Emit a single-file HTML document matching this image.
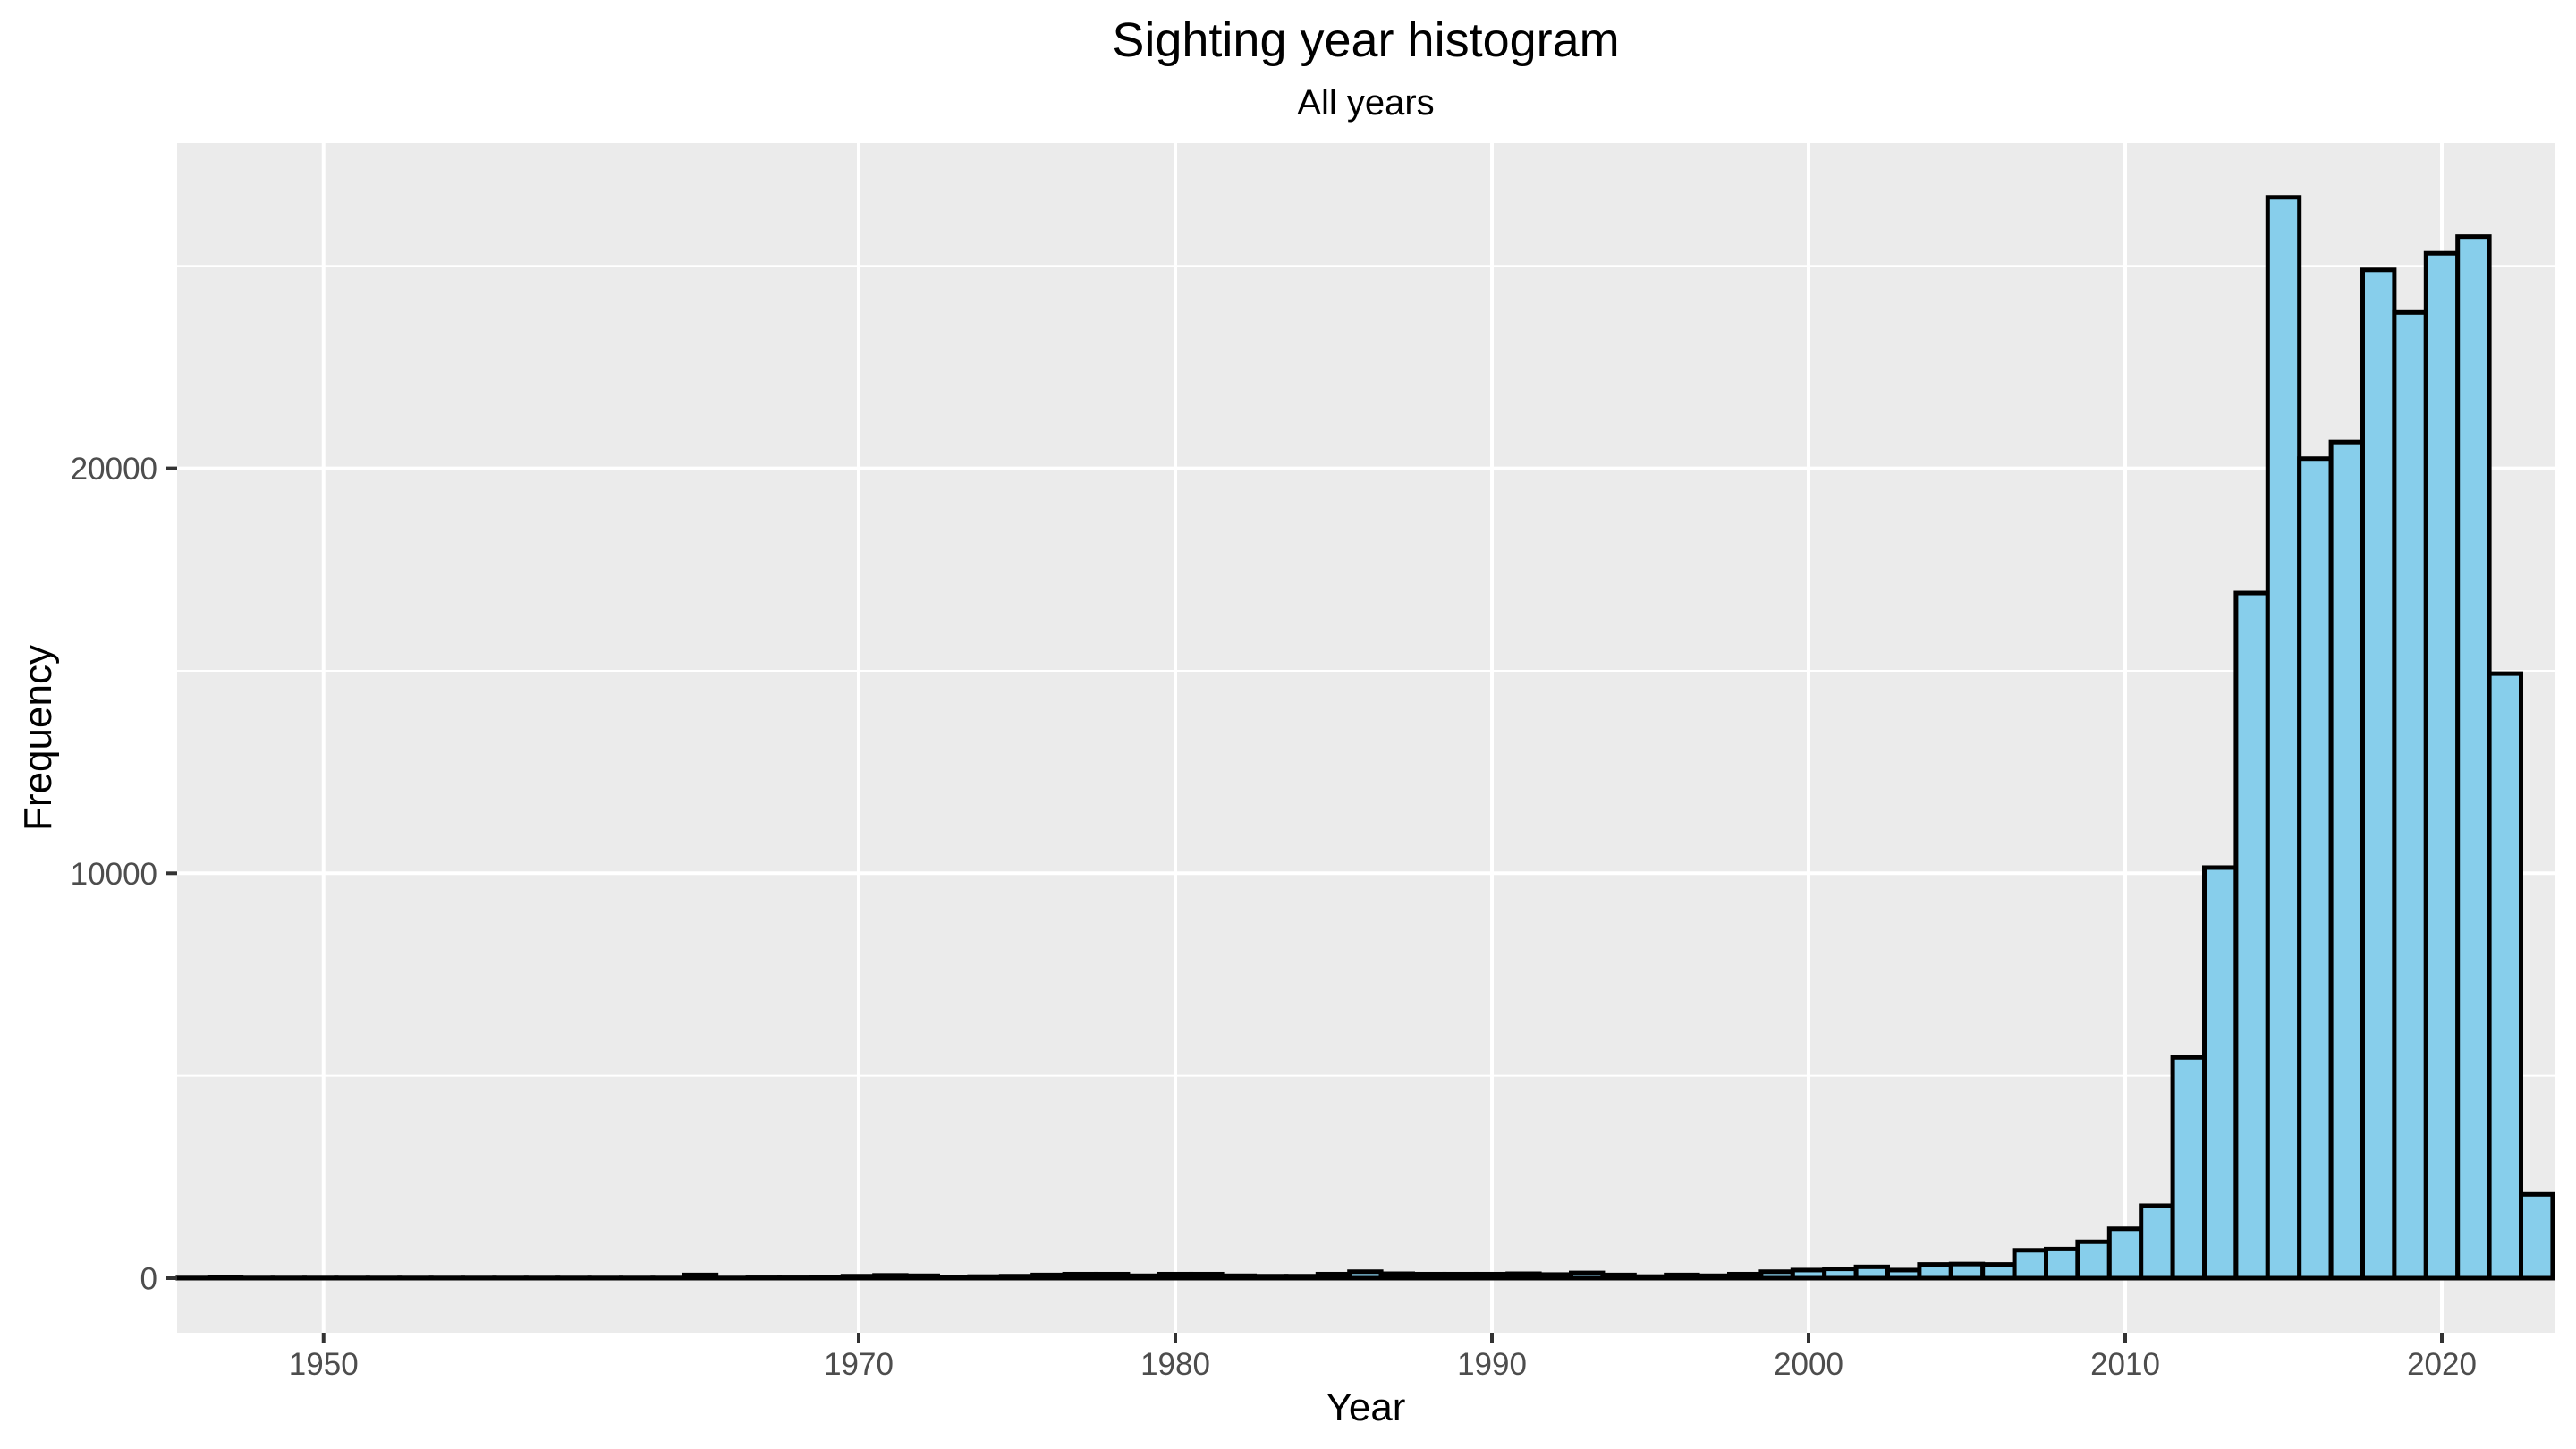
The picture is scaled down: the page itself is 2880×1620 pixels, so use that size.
<!DOCTYPE html>
<html><head><meta charset="utf-8"><style>
html,body{margin:0;padding:0;background:#fff;}
svg{display:block;font-family:"Liberation Sans",Arial,sans-serif;}
</style></head><body>
<svg id="chart" width="2880" height="1620" viewBox="0 0 2880 1620" xmlns="http://www.w3.org/2000/svg">
<rect x="0" y="0" width="2880" height="1620" fill="#ffffff"/>
<rect x="198" y="160" width="2659" height="1330" fill="#ebebeb"/>
<g id="grid"></g>
<g id="bars"></g>
<g id="axes"></g>
<text x="1527" y="63" text-anchor="middle" font-size="54" fill="#000">Sighting year histogram</text>
<text x="1527" y="128" text-anchor="middle" font-size="40" fill="#000">All years</text>
<text x="1527" y="1588" text-anchor="middle" font-size="44" fill="#000">Year</text>
<text x="57" y="825" text-anchor="middle" font-size="44" fill="#000" transform="rotate(-90 57 825)">Frequency</text>
</svg>
<script>
const years = [1949,1950,1951,1952,1953,1954,1955,1956,1957,1958,1959,1960,1961,1962,1963,1964,1965,1966,1967,1968,1969,1970,1971,1972,1973,1974,1975,1976,1977,1978,1979,1980,1981,1982,1983,1984,1985,1986,1987,1988,1989,1990,1991,1992,1993,1994,1995,1996,1997,1998,1999,2000,2001,2002,2003,2004,2005,2006,2007,2008,2009,2010,2011,2012,2013,2014,2015,2016,2017,2018,2019,2020,2021,2022,2023];
const counts = [5,30,5,5,5,5,5,5,5,5,5,5,5,5,5,5,80,5,10,10,20,50,70,60,30,40,50,80,100,100,60,100,100,60,50,50,100,160,110,100,100,100,110,90,130,80,40,80,60,100,160,200,230,280,200,340,350,340,690,720,900,1220,1790,5450,10140,16920,26690,20240,20650,24900,23850,25310,25720,14930,2070];
const yTicks = [0,10000,20000];
const yMinor = [5000,15000,25000];
const xTickLabels = ["1950","1970","1980","1990","2000","2010","2020"];
const xTickPos = [1953.1,1970,1980,1990,2000,2010,2020];

const NS = "http://www.w3.org/2000/svg";
const PL = 198, PR = 2857, PT = 160, PB = 1490;
function xs(yr){ return 2022 + (yr - 2000) * 35.4; }
function ys(v){ return 1429 - v * 0.04527; }
function mk(tag, attrs, parent){
  const e = document.createElementNS(NS, tag);
  for (const k in attrs) e.setAttribute(k, attrs[k]);
  parent.appendChild(e);
  return e;
}
const grid = document.getElementById('grid');
const bars = document.getElementById('bars');
const axes = document.getElementById('axes');

yMinor.forEach(v => {
  const l = mk('line', {x1:PL, x2:PR, y1:ys(v), y2:ys(v), stroke:'#fff', 'stroke-width':2}, grid);
  
  
});
yTicks.forEach(v => {
  const l = mk('line', {x1:PL, x2:PR, y1:ys(v), y2:ys(v), stroke:'#fff', 'stroke-width':4}, grid);
  
  
  const t = mk('line', {x1:PL-12, x2:PL, y1:ys(v), y2:ys(v), stroke:'#333', 'stroke-width':4}, axes);
  
  
  const tx = mk('text', {x:PL-22, y:ys(v)+12.5, 'text-anchor':'end', 'font-size':35, fill:'#4d4d4d'}, axes);
  tx.textContent = String(v);
  
  
});
xTickPos.forEach((p, i) => {
  const x = xs(p);
  const l = mk('line', {x1:x, x2:x, y1:PT, y2:PB, stroke:'#fff', 'stroke-width':4}, grid);
  
  
  const t = mk('line', {x1:x, x2:x, y1:PB, y2:PB+12, stroke:'#333', 'stroke-width':4}, axes);
  
  
  const tx = mk('text', {x:x, y:1537, 'text-anchor':'middle', 'font-size':35, fill:'#4d4d4d'}, axes);
  tx.textContent = xTickLabels[i];
  
  
});
years.forEach((yr, i) => {
  const x0 = xs(yr - 0.5), x1 = xs(yr + 0.5);
  const y0 = ys(counts[i]), y1 = ys(0);
  const r = mk('rect', {x:x0, y:y0, width:x1-x0, height:Math.max(0, y1-y0), fill:'#87ceeb', stroke:'#000', 'stroke-width':5}, bars);
  
  
});
</script>
</body></html>
